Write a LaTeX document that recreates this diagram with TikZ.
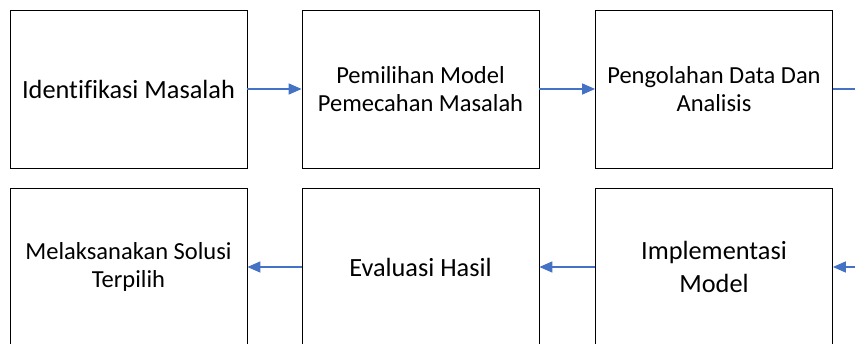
\documentclass[tikz,border=0pt]{standalone}
\usepackage{fontspec}
\setmainfont[Ligatures=NoCommon]{Carlito}
\usetikzlibrary{arrows.meta}
\definecolor{arrblue}{HTML}{4472C4}
\tikzset{
  box/.style={draw=black, line width=0.8pt, minimum width=237pt, minimum height=158pt, inner sep=0pt, align=center, anchor=center},
  small/.style={font=\fontsize{24.5}{28}\selectfont},
  big/.style={font=\fontsize{26.3}{33}\selectfont},
  conn/.style={draw=arrblue, line width=1.5pt, -{Triangle[length=13pt,width=11pt]}},
  connplain/.style={draw=arrblue, line width=1.5pt}
}
\begin{document}
\begin{tikzpicture}[x=1pt,y=1pt]
\useasboundingbox (0,0) rectangle (855,-344);
\node[box,big]   (b1) at (128.5,-89)  {Identifikasi Masalah};
\node[box,small] (b2) at (420.5,-89)  {Pemilihan Model\\Pemecahan Masalah};
\node[box,small] (b3) at (714,-89)    {Pengolahan Data Dan\\Analisis};
\node[box,small] (b4) at (128.5,-267) {Melaksanakan Solusi\\Terpilih};
\node[box,big]   (b5) at (420.5,-267) {Evaluasi Hasil};
\node[box,big]   (b6) at (714,-267)   {Implementasi\\Model};
\coordinate (out) at (870,-89);
\coordinate (in) at (870,-267);
\draw[conn] (b1) -- (b2);
\draw[conn] (b2) -- (b3);
\draw[connplain] (b3) -- (out);
\draw[conn] (in) -- (b6);
\draw[conn] (b6) -- (b5);
\draw[conn] (b5) -- (b4);
\end{tikzpicture}
\end{document}
